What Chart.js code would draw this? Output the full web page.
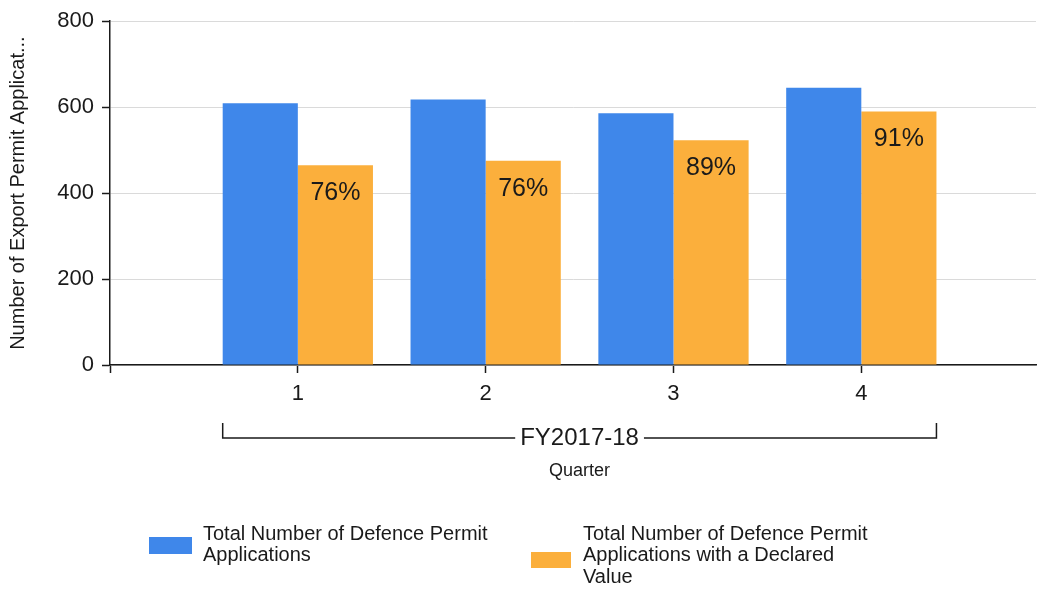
<!DOCTYPE html>
<html>
<head>
<meta charset="utf-8">
<script src="https://cdn.jsdelivr.net/npm/chart.js@4"></script>
<style>
  html, body { margin: 0; padding: 0; background: #fff; }
  #wrap { width: 1038px; height: 596px; position: relative; }
</style>
</head>
<body>
<div id="wrap"><canvas id="myChart"></canvas></div>
<script>
// data
const quarters = [1, 2, 3, 4];
const totalApps = [609, 618, 586, 645];
const declaredApps = [465, 475, 523, 590];
const pctLabels = ['76%', '76%', '89%', '91%'];
const yTicks = [0, 200, 400, 600, 800];
const groupLabel = 'FY2017-18';
const xTitle = 'Quarter';
const yTitle = 'Number of Export Permit Applicat...';
const legendLines = [
  ['Total Number of Defence Permit', 'Applications'],
  ['Total Number of Defence Permit', 'Applications with a Declared', 'Value']
];

const FONT = "'Liberation Sans', Arial, sans-serif";

// percent labels inside orange bars, bracket, quarter title, legend
const extras = {
  id: 'extras',
  afterDatasetsDraw(chart) {
    const ctx = chart.ctx;
    const meta = chart.getDatasetMeta(1);
    ctx.save();
    ctx.fillStyle = '#1a1a1a';
    ctx.font = '25px ' + FONT;
    ctx.textAlign = 'center';
    ctx.textBaseline = 'middle';
    meta.data.forEach((bar, i) => {
      ctx.fillText(pctLabels[i], bar.x, bar.y + 28);
    });
    ctx.restore();
  },
  afterDraw(chart) {
    const ctx = chart.ctx;
    const xs = chart.scales.x;
    const x0 = xs.getPixelForValue(quarters[0] - 0.4);
    const x1 = xs.getPixelForValue(quarters[quarters.length - 1] + 0.4);
    const mid = (x0 + x1) / 2;
    const by = 438;
    ctx.save();
    ctx.font = '24px ' + FONT;
    const tw = ctx.measureText(groupLabel).width;
    ctx.strokeStyle = '#1a1a1a';
    ctx.lineWidth = 1.5;
    ctx.beginPath();
    ctx.moveTo(x0, by - 15);
    ctx.lineTo(x0, by);
    ctx.lineTo(mid - tw / 2 - 5, by);
    ctx.moveTo(mid + tw / 2 + 5, by);
    ctx.lineTo(x1, by);
    ctx.lineTo(x1, by - 15);
    ctx.stroke();
    ctx.fillStyle = '#1a1a1a';
    ctx.textAlign = 'center';
    ctx.textBaseline = 'middle';
    ctx.fillText(groupLabel, mid, by);
    ctx.font = '18px ' + FONT;
    ctx.fillText(xTitle, mid, 471);

    // legend
    const items = [
      { box: [149, 537, 43, 17], tx: 203, ty: 534 },
      { box: [531, 552, 40, 16], tx: 583, ty: 534 }
    ];
    ctx.font = '20px ' + FONT;
    ctx.textAlign = 'left';
    items.forEach((it, i) => {
      ctx.fillStyle = chart.data.datasets[i].backgroundColor;
      ctx.fillRect(it.box[0], it.box[1], it.box[2], it.box[3]);
      ctx.fillStyle = '#1a1a1a';
      legendLines[i].forEach((line, j) => {
        ctx.fillText(line, it.tx, it.ty + j * 21.5);
      });
    });
    ctx.restore();
  }
};

const config = {
  type: 'bar',
  data: {
    datasets: [{
      label: legendLines[0].join(' '),
      backgroundColor: '#3F87EA',
      data: quarters.map((q, i) => ({ x: q, y: totalApps[i] })),
      categoryPercentage: 0.8,
      barPercentage: 1.0
    }, {
      label: legendLines[1].join(' '),
      backgroundColor: '#FBAF3C',
      data: quarters.map((q, i) => ({ x: q, y: declaredApps[i] })),
      categoryPercentage: 0.8,
      barPercentage: 1.0
    }]
  },
  options: {
    responsive: true,
    maintainAspectRatio: false,
    animation: false,
    layout: { padding: { top: 19, right: 2, left: 0, bottom: 0 } },
    scales: {
      x: {
        type: 'linear',
        min: 0,
        max: 4.93,
        offset: false,
        afterBuildTicks: (scale) => {
          scale.ticks = [0].concat(quarters).map(v => ({ value: v }));
        },
        afterFit: (scale) => { scale.height = 231; },
        grid: {
          offset: false,
          drawOnChartArea: false,
          tickLength: 8,
          tickColor: '#1a1a1a',
          tickWidth: 1.5
        },
        border: { color: '#1a1a1a', width: 1.5 },
        ticks: {
          color: '#1a1a1a',
          padding: 8,
          font: { size: 22, family: FONT },
          callback: (v) => (v === 0 ? '' : String(v))
        }
      },
      y: {
        min: 0,
        max: 800,
        afterBuildTicks: (scale) => {
          scale.ticks = yTicks.map(v => ({ value: v }));
        },
        afterFit: (scale) => { scale.width = 110; },
        grid: {
          color: '#DADADA',
          lineWidth: 1,
          tickLength: 8,
          tickColor: '#1a1a1a',
          tickWidth: 1.5
        },
        border: { color: '#1a1a1a', width: 1.5 },
        ticks: {
          color: '#1a1a1a',
          padding: 8,
          font: { size: 22, family: FONT }
        },
        title: {
          display: true,
          text: yTitle,
          color: '#1a1a1a',
          padding: { top: 6, bottom: 0 },
          font: { size: 20, family: FONT }
        }
      }
    },
    plugins: {
      legend: { display: false },
      tooltip: { enabled: false }
    }
  },
  plugins: [extras]
};

const myChart = new Chart(document.getElementById('myChart'), config);
</script>
</body>
</html>
